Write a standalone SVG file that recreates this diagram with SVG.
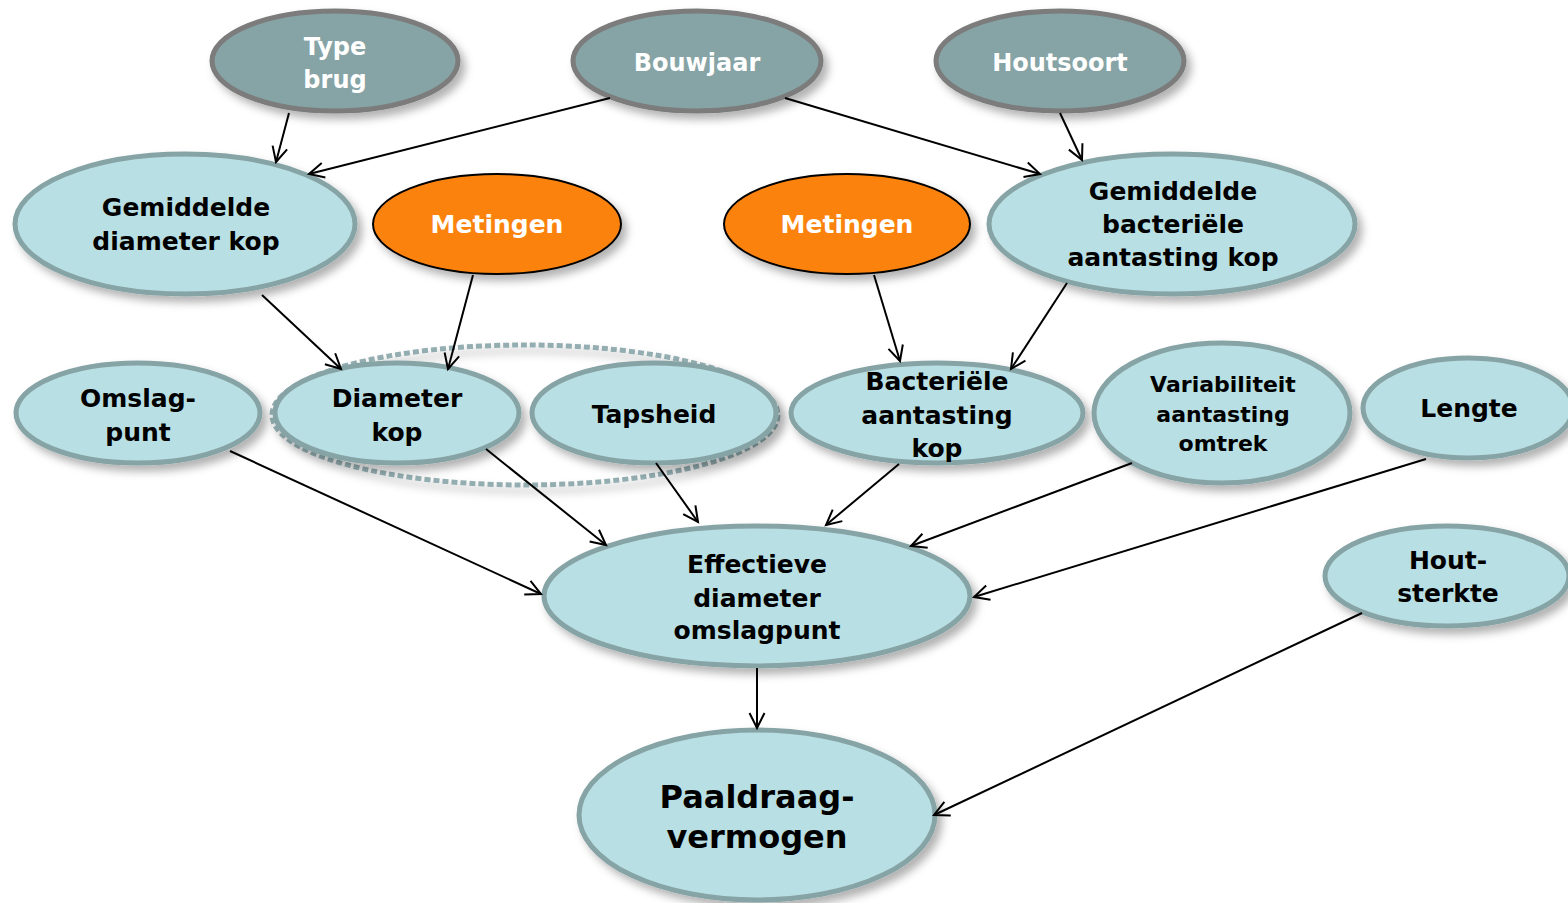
<svg xmlns="http://www.w3.org/2000/svg" width="1568" height="903" viewBox="0 0 1568 903">
<defs>
<filter id="sh" x="-20%" y="-20%" width="150%" height="150%">
<feDropShadow dx="5" dy="6" stdDeviation="4" flood-color="#000" flood-opacity="0.3"/>
</filter>
<marker id="ah" markerWidth="20" markerHeight="20" refX="17" refY="9" orient="auto" markerUnits="userSpaceOnUse" viewBox="0 0 20 18">
<path d="M2,1.5 L17,9 L2,16.5" fill="none" stroke="#000" stroke-width="2"/>
</marker>
<style>
text{font-family:"DejaVu Sans","Liberation Sans",sans-serif;font-weight:bold;text-anchor:middle}
.g ellipse{fill:#86a3a5;stroke:#7b7b7b;stroke-width:5}
.g text{fill:#fff;font-size:24px}
.b ellipse{fill:#b8dfe3;stroke:#86a3a5;stroke-width:5}
.b text{fill:#000;font-size:25px}
.o ellipse{fill:#fb830f;stroke:#000;stroke-width:2}
.o text{fill:#fff;font-size:25px}
.sm text{font-size:22px}
.big text{font-size:32px}
#edges line{stroke:#000;stroke-width:2;marker-end:url(#ah)}
</style>
</defs>
<rect width="1568" height="903" fill="#fff"/>
<g id="group-dashed">
<ellipse cx="525" cy="415" rx="253" ry="70" fill="none" stroke="#93adb0" stroke-width="5" stroke-dasharray="6 3" filter="url(#sh)"/>
</g>
<g id="n-typebrug" class="g"><ellipse cx="335" cy="61" rx="123" ry="50" filter="url(#sh)"/><text x="335" y="55">Type</text><text x="335" y="88">brug</text></g>
<g id="n-bouwjaar" class="g"><ellipse cx="697" cy="61" rx="124" ry="50" filter="url(#sh)"/><text x="697" y="71">Bouwjaar</text></g>
<g id="n-houtsoort" class="g"><ellipse cx="1060" cy="61" rx="124" ry="50" filter="url(#sh)"/><text x="1060" y="71">Houtsoort</text></g>
<g id="n-gemdiam" class="b"><ellipse cx="185" cy="224" rx="170" ry="70" filter="url(#sh)"/><text x="186" y="216">Gemiddelde</text><text x="186" y="250">diameter kop</text></g>
<g id="n-metingen1" class="o"><ellipse cx="497" cy="224" rx="124" ry="50" filter="url(#sh)"/><text x="497" y="233">Metingen</text></g>
<g id="n-metingen2" class="o"><ellipse cx="847" cy="224" rx="123" ry="50" filter="url(#sh)"/><text x="847" y="233">Metingen</text></g>
<g id="n-gembact" class="b"><ellipse cx="1172" cy="224" rx="183" ry="70" filter="url(#sh)"/><text x="1173" y="200">Gemiddelde</text><text x="1173" y="233">bacteriële</text><text x="1173" y="266">aantasting kop</text></g>
<g id="n-omslag" class="b"><ellipse cx="138" cy="413" rx="122" ry="50" filter="url(#sh)"/><text x="138" y="407">Omslag-</text><text x="138" y="441">punt</text></g>
<g id="n-diamkop" class="b"><ellipse cx="397" cy="413" rx="122" ry="50" filter="url(#sh)"/><text x="397" y="407">Diameter</text><text x="397" y="441">kop</text></g>
<g id="n-tapsheid" class="b"><ellipse cx="654" cy="413" rx="122" ry="50" filter="url(#sh)"/><text x="654" y="423">Tapsheid</text></g>
<g id="n-bactkop" class="b"><ellipse cx="937" cy="413" rx="146" ry="50" filter="url(#sh)"/><text x="937" y="390">Bacteriële</text><text x="937" y="424">aantasting</text><text x="937" y="457">kop</text></g>
<g id="n-variab" class="b sm"><ellipse cx="1222" cy="413" rx="128" ry="70" filter="url(#sh)"/><text x="1223" y="392">Variabiliteit</text><text x="1223" y="422">aantasting</text><text x="1223" y="451">omtrek</text></g>
<g id="n-lengte" class="b"><ellipse cx="1468" cy="408" rx="105" ry="50" filter="url(#sh)"/><text x="1469" y="417">Lengte</text></g>
<g id="n-effectief" class="b"><ellipse cx="757" cy="596" rx="213" ry="70" filter="url(#sh)"/><text x="757" y="573">Effectieve</text><text x="757" y="607">diameter</text><text x="757" y="639">omslagpunt</text></g>
<g id="n-houtsterkte" class="b"><ellipse cx="1447" cy="576" rx="122" ry="50" filter="url(#sh)"/><text x="1448" y="569">Hout-</text><text x="1448" y="602">sterkte</text></g>
<g id="n-paal" class="b big"><ellipse cx="757" cy="815" rx="178" ry="85" filter="url(#sh)"/><text x="757" y="808">Paaldraag-</text><text x="757" y="848">vermogen</text></g>
<g id="edges">
<line x1="289" y1="113" x2="276" y2="162"/>
<line x1="610" y1="98" x2="309" y2="174"/>
<line x1="785" y1="98" x2="1040" y2="174"/>
<line x1="1060" y1="113" x2="1082" y2="160"/>
<line x1="262" y1="295" x2="341" y2="369"/>
<line x1="473" y1="275" x2="448" y2="369"/>
<line x1="874" y1="275" x2="900" y2="361"/>
<line x1="1067" y1="283" x2="1011" y2="369"/>
<line x1="230" y1="451" x2="541" y2="594"/>
<line x1="486" y1="449" x2="606" y2="545"/>
<line x1="656" y1="463" x2="698" y2="522"/>
<line x1="899" y1="464" x2="826" y2="525"/>
<line x1="1132" y1="463" x2="911" y2="546"/>
<line x1="1426" y1="459" x2="974" y2="597"/>
<line x1="757" y1="668" x2="757" y2="728"/>
<line x1="1362" y1="613" x2="934" y2="815"/>
</g>
</svg>
